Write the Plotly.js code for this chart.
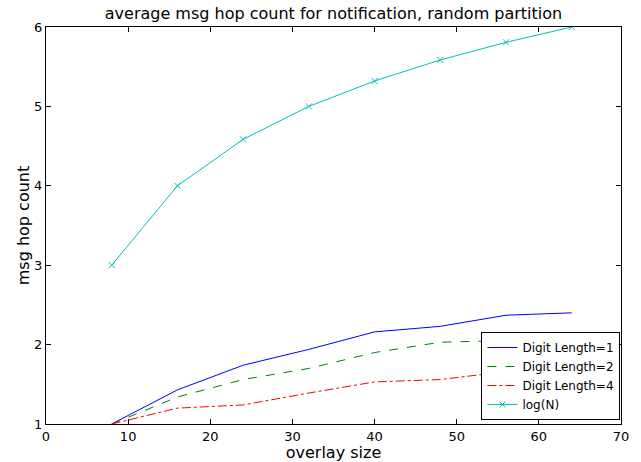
<!DOCTYPE html>
<html><head><meta charset="utf-8">
<script src="https://cdn.plot.ly/plotly-3.0.1.min.js"></script>
<style>html,body{margin:0;padding:0;background:#fff}#c{width:641px;height:462px}</style>
</head><body><div id="c"></div>
<script>
const overlaySize = [8, 16, 24, 32, 40, 48, 56, 64];
const digitLen1 = [1.0, 1.43, 1.74, 1.94, 2.16, 2.23, 2.37, 2.40];
const digitLen2 = [1.0, 1.34, 1.56, 1.70, 1.90, 2.03, 2.05, 2.15];
const digitLen4 = [1.0, 1.20, 1.24, 1.39, 1.53, 1.56, 1.66, 1.78];
const logN = [3, 4, 4.585, 5, 5.32, 5.585, 5.807, 6];
const seriesNames = ["Digit Length=1", "Digit Length=2", "Digit Length=4", "log(N)"];
const xTicks = [0, 10, 20, 30, 40, 50, 60, 70];
const yTicks = [1, 2, 3, 4, 5, 6];

const font = "DejaVu Sans, sans-serif";
const traces = [
  {x: overlaySize, y: digitLen1, name: seriesNames[0], mode: "lines", line: {color: "#0000ff", width: 1}},
  {x: overlaySize, y: digitLen2, name: seriesNames[1], mode: "lines", line: {color: "#008000", width: 1, dash: "dash"}},
  {x: overlaySize, y: digitLen4, name: seriesNames[2], mode: "lines", line: {color: "#ff0000", width: 1, dash: "dashdot"}},
  {x: overlaySize, y: logN, name: seriesNames[3], mode: "lines+markers", line: {color: "#00bfbf", width: 1},
   marker: {symbol: "x-thin", size: 6, color: "#00bfbf", line: {color: "#00bfbf", width: 1}}}
];
const axisCommon = {
  showgrid: false, zeroline: false, showline: true, linecolor: "#000", linewidth: 1,
  mirror: "ticks", ticks: "inside", ticklen: 5, tickcolor: "#000",
  tickfont: {family: font, size: 13, color: "#000"}
};
const layout = {
  width: 641, height: 462,
  margin: {l: 46, r: 20, t: 27, b: 38},
  paper_bgcolor: "#fff", plot_bgcolor: "#fff",
  font: {family: font, color: "#000"},
  title: {text: "average msg hop count for notification, random partition", font: {family: font, size: 16, color: "#000"},
          x: 0.5, xref: "paper", xanchor: "center", y: 0.983, yanchor: "top"},
  xaxis: Object.assign({}, axisCommon, {range: [0, 70], tickvals: xTicks, ticktext: xTicks.map(String),
          title: {text: "overlay size", font: {family: font, size: 16, color: "#000"}, standoff: 0}}),
  yaxis: Object.assign({}, axisCommon, {range: [1, 6], tickvals: yTicks, ticktext: yTicks.map(String),
          title: {text: "msg hop count", font: {family: font, size: 16, color: "#000"}, standoff: 0}}),
  showlegend: true,
  legend: {x: 0.999, y: 0.01, xanchor: "right", yanchor: "bottom", bgcolor: "#fff",
           bordercolor: "#000", borderwidth: 1, font: {family: font, size: 12, color: "#000"},
           tracegroupgap: 0, itemwidth: 30}
};
Plotly.newPlot("c", traces, layout, {displayModeBar: false, staticPlot: true});
</script></body></html>
